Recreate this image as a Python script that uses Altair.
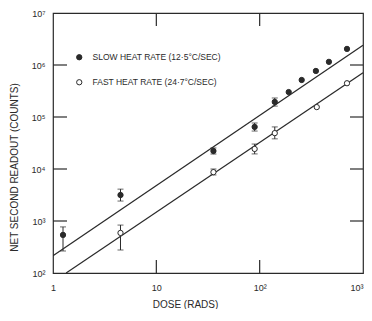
import altair as alt
import pandas as pd

SLOW = "SLOW HEAT RATE (12·5°C/SEC)"
FAST = "FAST HEAT RATE (24·7°C/SEC)"

slow_dose = [1.25, 4.5, 35.7, 89.4, 140, 191, 255, 350, 468, 700]
slow_counts = [540, 3160, 22200, 64500, 195000, 302000, 515000, 768000, 1150000, 2040000]
slow_err_dose = [1.25, 4.5, 35.7, 89.4, 140]
slow_err_lo = [265, 2420, 19400, 53700, 162000]
slow_err_hi = [770, 4100, 25400, 76700, 232000]

fast_dose = [4.5, 35.7, 89.4, 140, 357, 700]
fast_counts = [590, 8700, 24300, 49000, 155000, 446000]
fast_err_dose = [4.5, 35.7, 89.4, 140]
fast_err_lo = [277, 7680, 19500, 38000]
fast_err_hi = [835, 10000, 30200, 64500]

slow_line_dose = [1, 1000]
slow_line_counts = [214, 2400000]
fast_line_dose = [1.34, 1000]
fast_line_counts = [100, 710000]

x_ticks = [1, 10, 100, 1000]
y_ticks = [100, 1000, 10000, 100000, 1000000, 10000000]
x_inner = [10, 100]
y_inner = [1000, 10000, 100000, 1000000]

pts = pd.DataFrame({
    "dose": slow_dose + fast_dose,
    "counts": slow_counts + fast_counts,
    "series": [SLOW] * len(slow_dose) + [FAST] * len(fast_dose),
})
errs = pd.DataFrame({
    "dose": slow_err_dose + fast_err_dose,
    "lo": slow_err_lo + fast_err_lo,
    "hi": slow_err_hi + fast_err_hi,
})
lines = pd.DataFrame({
    "dose": slow_line_dose + fast_line_dose,
    "counts": slow_line_counts + fast_line_counts,
    "series": [SLOW] * 2 + [FAST] * 2,
})

INK = "#2a2a2a"
FONT = "Liberation Sans"

xscale = alt.Scale(type="log", domain=[1, 1000], nice=False)
yscale = alt.Scale(type="log", domain=[100, 10000000], nice=False)

x_label_expr = "datum.value == 1 ? '1' : datum.value == 10 ? '10' : datum.value == 100 ? '10²' : '10³'"
y_label_expr = "'10' + ['', '', '²', '³', '⁴', '⁵', '⁶', '⁷'][round(log(datum.value)/log(10))]"

xaxis = alt.Axis(values=x_ticks, labelExpr=x_label_expr, ticks=False, domain=False, grid=False,
                 labelFlush=False, labelOverlap=False, labelPadding=10, labelFontSize=9,
                 labelAlign={"condition": {"test": "datum.value == 1000", "value": "right"}, "value": "center"},
                 title="DOSE   (RADS)", titleFontSize=10, titleFontWeight="normal",
                 titleX=132, titleY=31, titleAnchor="middle", titleBaseline="middle")
yaxis = alt.Axis(values=y_ticks, labelExpr=y_label_expr, ticks=False, domain=False, grid=False,
                 labelOverlap=False, labelPadding=8, labelFontSize=9,
                 title="NET  SECOND  READOUT  (COUNTS)", titleFontSize=10, titleFontWeight="normal",
                 titleX=-39, titleY=154, titleAngle=270, titleAlign="center", titleBaseline="middle")

base_x = alt.X("dose:Q", scale=xscale, axis=xaxis)
base_y = alt.Y("counts:Q", scale=yscale, axis=yaxis)

line_layer = alt.Chart(lines).mark_line(color=INK, strokeWidth=1.2, clip=True).encode(
    x=base_x, y=base_y, detail="series:N")

err_rule = alt.Chart(errs).mark_rule(color=INK, strokeWidth=1).encode(
    x=alt.X("dose:Q", scale=xscale), y=alt.Y("lo:Q", scale=yscale), y2="hi:Q")
cap_lo = alt.Chart(errs).mark_tick(color=INK, thickness=1, size=6, orient="horizontal").encode(
    x=alt.X("dose:Q", scale=xscale), y=alt.Y("lo:Q", scale=yscale))
cap_hi = alt.Chart(errs).mark_tick(color=INK, thickness=1, size=6, orient="horizontal").encode(
    x=alt.X("dose:Q", scale=xscale), y=alt.Y("hi:Q", scale=yscale))

point_layer = alt.Chart(pts).mark_circle(size=28, stroke=INK, strokeWidth=1, opacity=1).encode(
    x=alt.X("dose:Q", scale=xscale),
    y=alt.Y("counts:Q", scale=yscale),
    fill=alt.Fill("series:N", scale=alt.Scale(domain=[SLOW, FAST], range=[INK, "white"]),
                  legend=alt.Legend(title=None, orient="none", legendX=22, legendY=40,
                                    symbolType="circle", symbolSize=28, symbolStrokeColor=INK,
                                    symbolStrokeWidth=1, symbolOpacity=1, labelFontSize=8.5,
                                    labelOffset=9, rowPadding=15, padding=0,
                                    labelColor=INK, labelFont=FONT)),
)

xt = pd.DataFrame({"v": x_inner})
yt = pd.DataFrame({"v": y_inner})
tick_bottom = alt.Chart(xt).mark_rule(color=INK, strokeWidth=1.2).encode(
    x=alt.X("v:Q", scale=xscale), y=alt.value(247), y2=alt.value(260))
tick_top = alt.Chart(xt).mark_rule(color=INK, strokeWidth=1.2).encode(
    x=alt.X("v:Q", scale=xscale), y=alt.value(0), y2=alt.value(13))
tick_left = alt.Chart(yt).mark_rule(color=INK, strokeWidth=1.2).encode(
    y=alt.Y("v:Q", scale=yscale), x=alt.value(0), x2=alt.value(14))
tick_right = alt.Chart(yt).mark_rule(color=INK, strokeWidth=1.2).encode(
    y=alt.Y("v:Q", scale=yscale), x=alt.value(297), x2=alt.value(310))

chart = alt.layer(
    line_layer, err_rule, cap_lo, cap_hi, point_layer,
    tick_bottom, tick_top, tick_left, tick_right,
).properties(
    width=310, height=260,
    autosize=alt.AutoSizeParams(type="none"),
    padding={"left": 45, "top": 5, "right": 1, "bottom": 36},
    background="white",
).configure_view(
    stroke=INK, strokeWidth=1.2,
).configure_axis(
    labelFont=FONT, titleFont=FONT, labelColor=INK, titleColor=INK,
).configure_legend(
    labelLimit=300,
)

chart.save("out.html", embed_options={"renderer": "svg", "actions": False})
